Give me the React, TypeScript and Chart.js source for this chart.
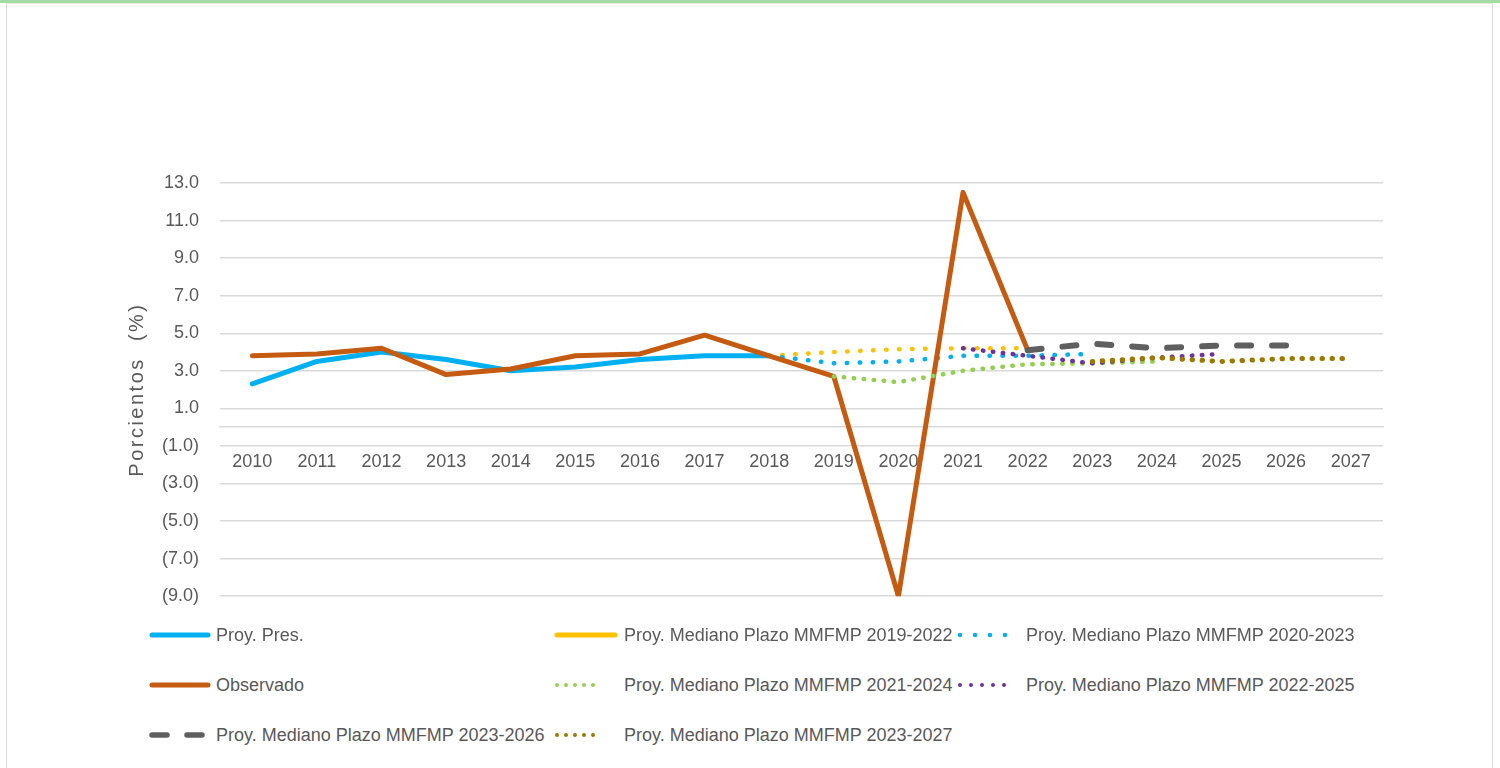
import React, { useEffect, useRef } from 'react';
import { Chart, registerables } from 'chart.js';

Chart.register(...registerables);

const categories = ['2010', '2011', '2012', '2013', '2014', '2015', '2016', '2017', '2018', '2019', '2020', '2021', '2022', '2023', '2024', '2025', '2026', '2027'];

const proyPres = [2.3, 3.5, 4.0, 3.6, 3.0, 3.2, 3.6, 3.8, 3.8, null, null, null, null, null, null, null, null, null];
const observado = [3.8, 3.9, 4.2, 2.8, 3.1, 3.8, 3.9, 4.9, 3.8, 2.7, -9.0, 12.5, 4.1, null, null, null, null, null];
const mmfmp2019_2022 = [null, null, null, null, null, null, null, null, 3.8, 4.0, 4.15, 4.2, 4.2, null, null, null, null, null];
const mmfmp2020_2023 = [null, null, null, null, null, null, null, null, 3.8, 3.4, 3.5, 3.8, 3.8, 3.9, null, null, null, null];
const mmfmp2021_2024 = [null, null, null, null, null, null, null, null, null, 2.7, 2.4, 3.0, 3.35, 3.4, 3.5, null, null, null];
const mmfmp2022_2025 = [null, null, null, null, null, null, null, null, null, null, null, 4.2, 3.8, 3.4, 3.7, 3.9, null, null];
const mmfmp2023_2026 = [null, null, null, null, null, null, null, null, null, null, null, null, 4.1, 4.45, 4.2, 4.35, 4.35, null];
const mmfmp2023_2027 = [null, null, null, null, null, null, null, null, null, null, null, null, null, 3.5, 3.7, 3.5, 3.65, 3.65];

const yTicksMin = -9;
const yTicksMax = 13;
const yTickStep = 2;

const FONT = "'Liberation Sans', Arial, sans-serif";
const TEXT = '#595959';
const GRID = '#d9d9d9';

type Series = {
  label: string;
  data: (number | null)[];
  color: string;
  width: number;
  dash: number[];
  leg: { dash: string; len: number; w: number };
};

const series: Series[] = [
  { label: 'Proy. Pres.', data: proyPres, color: '#00B0F0', width: 5, dash: [], leg: { dash: '', len: 56, w: 5 } },
  { label: 'Proy. Mediano Plazo MMFMP 2019-2022', data: mmfmp2019_2022, color: '#FFC000', width: 4.5, dash: [0.5, 12.5], leg: { dash: '', len: 58, w: 5 } },
  { label: 'Proy. Mediano Plazo MMFMP 2020-2023', data: mmfmp2020_2023, color: '#00B0F0', width: 4.5, dash: [0.5, 12.5], leg: { dash: '0 15', len: 60, w: 4.5 } },
  { label: 'Observado', data: observado, color: '#C55A11', width: 5, dash: [], leg: { dash: '', len: 56, w: 5 } },
  { label: 'Proy. Mediano Plazo MMFMP 2021-2024', data: mmfmp2021_2024, color: '#92D050', width: 4.5, dash: [0.5, 9.5], leg: { dash: '0 9', len: 45, w: 4 } },
  { label: 'Proy. Mediano Plazo MMFMP 2022-2025', data: mmfmp2022_2025, color: '#7030A0', width: 4.5, dash: [0.5, 9.5], leg: { dash: '0 11', len: 55, w: 4 } },
  { label: 'Proy. Mediano Plazo MMFMP 2023-2026', data: mmfmp2023_2026, color: '#5f5f5f', width: 6, dash: [14, 21], leg: { dash: '15 20', len: 50, w: 5.5 } },
  { label: 'Proy. Mediano Plazo MMFMP 2023-2027', data: mmfmp2023_2027, color: '#9C7800', width: 5, dash: [0.5, 9.5], leg: { dash: '0 9', len: 45, w: 4 } },
];

const legendSwatchX = [152, 557, 960];
const legendTextX = [216, 624, 1026];
const legendRowY = 635;
const legendRowStep = 50;

const fmt = (v: number) => (v < 0 ? `(${Math.abs(v).toFixed(1)})` : v.toFixed(1));

const titleSpacing = {
  id: 'titleSpacing',
  beforeDraw(chart: any) {
    const s: any = chart.scales.y;
    if (s && !s.__patched) {
      const orig = s.drawTitle;
      s.drawTitle = function () {
        const ctx = this.ctx;
        ctx.save();
        try { (ctx as any).letterSpacing = '2.5px'; } catch (e) {}
        orig.call(this);
        ctx.restore();
      };
      s.__patched = true;
    }
  },
};

function Swatch({ s }: { s: Series }) {
  const w = s.leg.len + 6;
  return (
    <svg width={w} height={12} style={{ display: 'block' }}>
      <line
        x1={3}
        y1={6}
        x2={3 + s.leg.len}
        y2={6}
        stroke={s.color}
        strokeWidth={s.leg.w}
        strokeLinecap="round"
        strokeDasharray={s.leg.dash || undefined}
      />
    </svg>
  );
}

export default function App() {
  const ref = useRef<HTMLCanvasElement>(null);

  useEffect(() => {
    if (!ref.current) return;
    const chart = new Chart(ref.current, {
      type: 'line',
      data: {
        labels: categories,
        datasets: series.map((s, i) => ({
          label: s.label,
          data: s.data,
          borderColor: s.color,
          backgroundColor: s.color,
          borderWidth: s.width,
          borderDash: s.dash,
          borderCapStyle: 'round',
          borderJoinStyle: 'round',
          pointRadius: 0,
          pointHoverRadius: 0,
          tension: 0,
          fill: false,
          spanGaps: false,
          order: series.length - 1 - i,
        })) as any,
      },
      options: {
        responsive: false,
        animation: false,
        events: [],
        layout: { padding: { left: 120, right: 117, top: 183, bottom: 17 } },
        plugins: { legend: { display: false }, tooltip: { enabled: false } },
        scales: {
          x: {
            type: 'category',
            position: { y: 0 } as any,
            offset: true,
            afterFit: (sc: any) => { sc.height = 0; },
            grid: { display: false, drawTicks: false },
            border: { display: true, color: GRID, width: 1.5 },
            ticks: { color: TEXT, font: { family: FONT, size: 18 }, padding: 24, maxRotation: 0, autoSkip: false },
          },
          y: {
            min: yTicksMin,
            max: yTicksMax,
            afterFit: (sc: any) => { sc.width = 100; },
            grid: { color: GRID, lineWidth: 1.5, drawTicks: false },
            border: { display: false },
            ticks: { stepSize: yTickStep, color: TEXT, font: { family: FONT, size: 18 }, padding: 21, callback: (v: any) => fmt(Number(v)) },
            title: { display: true, text: 'Porcientos  (%)', color: TEXT, font: { family: FONT, size: 20 }, padding: { top: 5, bottom: 0 } },
          },
        },
      } as any,
      plugins: [titleSpacing],
    });
    return () => chart.destroy();
  }, []);

  return (
    <div style={{ position: 'absolute', left: 0, top: 0, width: 1500, height: 768, overflow: 'hidden', background: '#fff' }}>
      <div style={{ position: 'absolute', left: 0, top: 0, width: 1500, height: 3, background: '#a3dba3' }} />
      <div style={{ position: 'absolute', left: 6, top: 3, width: 1487, height: 800, borderLeft: '1.5px solid #d9d9d9', borderRight: '1.5px solid #d9d9d9', borderTop: '1px solid #e6e6e6', boxSizing: 'border-box' }} />
      <canvas ref={ref} width={1500} height={628} style={{ position: 'absolute', left: 0, top: 0, width: 1500, height: 628 }} />
      {series.map((s, i) => {
        const col = i % 3;
        const row = Math.floor(i / 3);
        const y = legendRowY + row * legendRowStep;
        return (
          <React.Fragment key={s.label}>
            <div style={{ position: 'absolute', left: legendSwatchX[col] - 3, top: y - 6 }}>
              <Swatch s={s} />
            </div>
            <div style={{ position: 'absolute', left: legendTextX[col], top: y - 12, height: 24, lineHeight: '24px', fontFamily: FONT, fontSize: 18, color: TEXT, whiteSpace: 'nowrap' }}>
              {s.label}
            </div>
          </React.Fragment>
        );
      })}
    </div>
  );
}
